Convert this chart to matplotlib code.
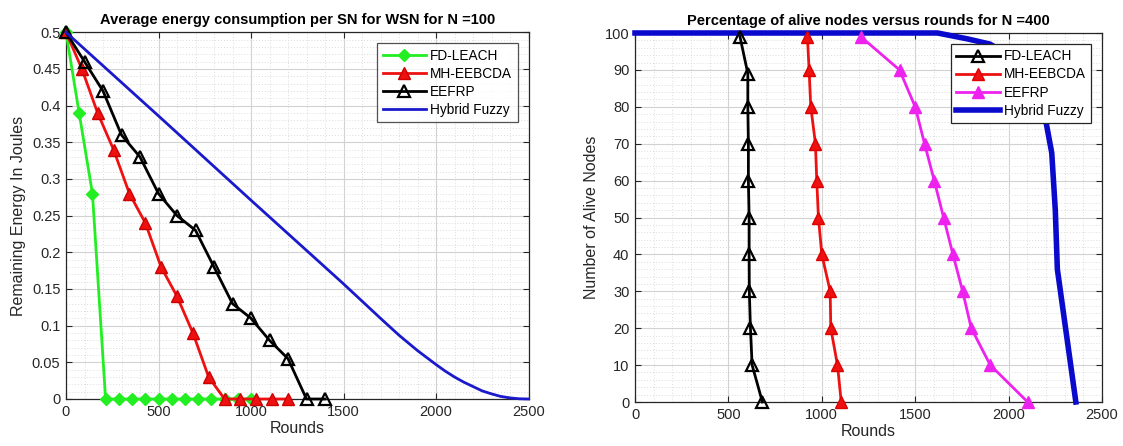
import matplotlib
matplotlib.use("Agg")
import matplotlib.pyplot as plt
from matplotlib.ticker import MultipleLocator, FuncFormatter

plt.rcParams['font.family'] = ['Liberation Sans', 'DejaVu Sans']

# ---- Energy per sensor node, N = 100 ----
fd_leach_x = [0, 71, 143, 214, 286, 357, 429, 500, 571, 643, 714, 786, 857, 929, 1000]
fd_leach_e = [0.5, 0.39, 0.28, 0, 0, 0, 0, 0, 0, 0, 0, 0, 0, 0, 0]

mh_eebcda_x = [0, 86, 171, 257, 343, 429, 514, 600, 686, 771, 857, 943, 1029, 1114, 1200]
mh_eebcda_e = [0.5, 0.45, 0.39, 0.34, 0.28, 0.24, 0.18, 0.14, 0.09, 0.03, 0, 0, 0, 0, 0]

eefrp_x = [0, 100, 200, 300, 400, 500, 600, 700, 800, 900, 1000, 1100, 1200, 1300, 1400]
eefrp_e = [0.5, 0.46, 0.42, 0.36, 0.33, 0.28, 0.25, 0.23, 0.18, 0.13, 0.11, 0.08, 0.055, 0, 0]

hybrid_x = [0, 500, 1000, 1500, 1700, 1800, 1900, 2000, 2050, 2100, 2150, 2200,
            2250, 2300, 2350, 2400, 2450, 2500]
hybrid_e = [0.5, 0.386, 0.271, 0.157, 0.110, 0.087, 0.066, 0.047, 0.038, 0.030,
            0.023, 0.017, 0.011, 0.007, 0.0035, 0.0015, 0.0003, 0]

# ---- Alive nodes, N = 400 ----
alive_levels = [99, 90, 80, 70, 60, 50, 40, 30, 20, 10, 0]
fd_leach_alive = [99, 89, 80, 70, 60, 50, 40, 30, 20, 10, 0]
fd_leach_rounds = [562, 604, 604, 607, 607, 611, 611, 612, 618, 627, 682]
mh_eebcda_rounds = [923, 932, 941, 966, 973, 982, 1000, 1045, 1048, 1084, 1104]
eefrp_rounds = [1209, 1416, 1500, 1550, 1602, 1652, 1702, 1754, 1800, 1902, 2102]

hybrid_rounds = [0, 1620, 1700, 1780, 1900, 2000, 2100, 2150, 2198, 2231, 2250, 2261, 2360]
hybrid_alive = [100, 100, 99.2, 98.4, 97, 94, 88, 83, 76.5, 67.5, 52, 36, 0]

legend_names = ['FD-LEACH', 'MH-EEBCDA', 'EEFRP', 'Hybrid Fuzzy']

fig = plt.figure(figsize=(11.23, 4.46), dpi=100)
ax1 = fig.add_axes([66 / 1123, 1 - 399 / 446, (528.5 - 66) / 1123, (399 - 32.3) / 446])
ax2 = fig.add_axes([635 / 1123, 1 - 402 / 446, (1102 - 635) / 1123, (402 - 33) / 446])


def style_axes(ax, ymajor, yminor):
    ax.xaxis.set_major_locator(MultipleLocator(500))
    ax.xaxis.set_minor_locator(MultipleLocator(100))
    ax.yaxis.set_major_locator(MultipleLocator(ymajor))
    ax.yaxis.set_minor_locator(MultipleLocator(yminor))
    ax.grid(which='major', color='#d2d2d2', linewidth=0.8, linestyle='-')
    ax.grid(which='minor', color='#dcdcdc', linewidth=0.7, linestyle=(0, (1, 2)))
    ax.set_axisbelow(True)
    ax.tick_params(which='both', direction='in', top=True, right=True,
                   labelsize=10.5, colors='#262626', pad=4)
    ax.tick_params(which='major', length=4)
    ax.tick_params(which='minor', length=0)
    for s in ax.spines.values():
        s.set_color('#262626')
        s.set_linewidth(0.9)
    ax.xaxis.set_major_formatter(FuncFormatter(lambda v, p: '%g' % v))
    ax.yaxis.set_major_formatter(FuncFormatter(lambda v, p: '%g' % round(v, 4)))


# Left: remaining energy
ax1.plot(fd_leach_x, fd_leach_e, color='#22ee22', lw=2, marker='D', ms=6,
         mfc='#22ee22', mec='#22ee22', label=legend_names[0], clip_on=False, zorder=3)
ax1.plot(mh_eebcda_x, mh_eebcda_e, color='#ee1111', lw=2, marker='^', ms=8,
         mfc='#ee1111', mec='#cc0000', label=legend_names[1], clip_on=False, zorder=4)
ax1.plot(eefrp_x, eefrp_e, color='black', lw=2, marker='^', ms=8,
         mfc='none', mec='black', mew=1.6, label=legend_names[2], clip_on=False, zorder=5)
ax1.plot(hybrid_x, hybrid_e, color='#1a1acc', lw=2, label=legend_names[3],
         clip_on=False, zorder=6)
ax1.set_xlim(0, 2500)
ax1.set_ylim(0, 0.5)
style_axes(ax1, 0.05, 0.01)
ax1.set_title('Average energy consumption per SN for WSN for N =100',
              fontsize=10.5, fontweight='bold', pad=6)
ax1.set_xlabel('Rounds', fontsize=11.5, color='#262626', labelpad=2)
ax1.set_ylabel('Remaining Energy In Joules', fontsize=11.5, color='#262626', labelpad=4)
leg1 = ax1.legend(loc='upper right', fontsize=9.8, handlelength=3.2, frameon=True,
                  fancybox=False, edgecolor='#262626', borderaxespad=0.8,
                  borderpad=0.4, labelspacing=0.3, handletextpad=0.3)
leg1.get_frame().set_linewidth(0.9)

# Right: alive nodes
ax2.plot(fd_leach_rounds, fd_leach_alive, color='black', lw=2, marker='^', ms=8,
         mfc='none', mec='black', mew=1.6, label=legend_names[0], clip_on=False, zorder=4)
ax2.plot(mh_eebcda_rounds, alive_levels, color='#ee1111', lw=2, marker='^', ms=8,
         mfc='#ee1111', mec='#dd0000', label=legend_names[1], clip_on=False, zorder=4)
ax2.plot(eefrp_rounds, alive_levels, color='#ee22ee', lw=2, marker='^', ms=8,
         mfc='#ee22ee', mec='#ee22ee', label=legend_names[2], clip_on=False, zorder=4)
ax2.plot(hybrid_rounds, hybrid_alive, color='#0a0acc', lw=4, label=legend_names[3],
         clip_on=False, zorder=3)
ax2.set_xlim(0, 2500)
ax2.set_ylim(0, 100)
style_axes(ax2, 10, 2)
ax2.set_title('Percentage of alive nodes versus rounds for N =400',
              fontsize=10.5, fontweight='bold', pad=6)
ax2.set_xlabel('Rounds', fontsize=11.5, color='#262626', labelpad=2)
ax2.set_ylabel('Number of Alive Nodes', fontsize=11.5, color='#262626', labelpad=4)
leg2 = ax2.legend(loc='upper right', fontsize=9.8, handlelength=3.2, frameon=True,
                  fancybox=False, edgecolor='#262626', borderaxespad=0.8,
                  borderpad=0.4, labelspacing=0.3, handletextpad=0.3,
                  framealpha=1)
leg2.get_frame().set_linewidth(0.9)
leg2.set_zorder(10)

fig.savefig('out.png', dpi=100, facecolor='white')
